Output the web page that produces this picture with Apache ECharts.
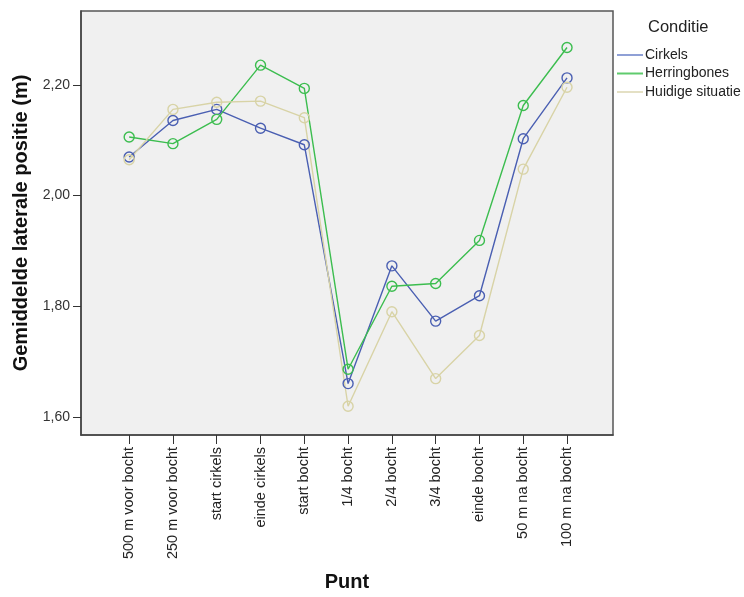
<!DOCTYPE html>
<html>
<head>
<meta charset="utf-8">
<script src="https://cdn.jsdelivr.net/npm/echarts@6/dist/echarts.min.js"></script>
<style>
  html, body { margin: 0; padding: 0; background: #fff; }
  #main { width: 744px; height: 597px; }
</style>
</head>
<body>
<div id="main"></div>
<script>
// punten langs de bocht
var punten = ['500 m voor bocht', '250 m voor bocht', 'start cirkels', 'einde cirkels', 'start bocht',
  '1/4 bocht', '2/4 bocht', '3/4 bocht', 'einde bocht', '50 m na bocht', '100 m na bocht'];

var cirkels = [2.070, 2.136, 2.156, 2.122, 2.092, 1.660, 1.873, 1.773, 1.819, 2.103, 2.213];
var herringbones = [2.106, 2.094, 2.138, 2.236, 2.194, 1.686, 1.836, 1.841, 1.919, 2.163, 2.268];
var huidig = [2.065, 2.156, 2.169, 2.171, 2.141, 1.619, 1.790, 1.669, 1.747, 2.048, 2.196];

var yTicks = [1.6, 1.8, 2.0, 2.2];
var xTicks = punten.map(function (p, i) { return i; });

var chart = echarts.init(document.getElementById('main'));

function mkSerie(name, vals, color) {
  return {
    name: name,
    type: 'line',
    data: vals.map(function (v, i) { return [i, v]; }),
    symbol: 'circle',
    symbolSize: 10,
    showSymbol: true,
    lineStyle: { color: color, width: 1.4 },
    itemStyle: { color: 'rgba(0,0,0,0)', borderColor: color, borderWidth: 1.4 },
    emphasis: { disabled: true },
    z: 3
  };
}

var option = {
  animation: false,
  textStyle: { fontFamily: 'Liberation Sans, Arial, sans-serif' },
  title: {
    text: 'Conditie',
    left: 643,
    top: 14,
    textStyle: { fontSize: 16.5, fontWeight: 'normal', color: '#222' }
  },
  legend: {
    orient: 'vertical',
    left: 617,
    top: 47,
    padding: 0,
    icon: 'rect',
    itemWidth: 26,
    itemHeight: 2,
    itemGap: 2.5,
    textStyle: { fontSize: 14, color: '#222', padding: [0, 0, 0, -3], lineHeight: 16 },
    data: [
      { name: 'Cirkels', itemStyle: { color: '#8fa0d6', borderWidth: 0 } },
      { name: 'Herringbones', itemStyle: { color: '#5fcb6d', borderWidth: 0 } },
      { name: 'Huidige situatie', itemStyle: { color: '#e4e0c4', borderWidth: 0 } }
    ]
  },
  grid: {
    left: 81, top: 11, right: 131, bottom: 162,
    show: true,
    backgroundColor: '#f0f0f0',
    borderColor: '#555',
    borderWidth: 1.5
  },
  xAxis: {
    type: 'value',
    min: -1.1,
    max: 11.05,
    name: 'Punt',
    nameLocation: 'middle',
    nameGap: 137,
    nameTextStyle: { fontSize: 20, fontWeight: 'bold', color: '#111' },
    axisLine: { show: true, onZero: false, lineStyle: { color: '#444', width: 1.5 } },
    axisTick: { show: true, length: 9, customValues: xTicks, lineStyle: { color: '#333' } },
    splitLine: { show: false },
    axisLabel: {
      customValues: xTicks,
      rotate: 90,
      margin: 12,
      fontSize: 14.5,
      color: '#222',
      formatter: function (v) { return punten[Math.round(v)]; }
    }
  },
  yAxis: {
    type: 'value',
    min: 1.567,
    max: 2.334,
    name: 'Gemiddelde laterale positie (m)',
    nameLocation: 'middle',
    nameGap: 50,
    nameTextStyle: { fontSize: 20, fontWeight: 'bold', color: '#111' },
    axisLine: { show: true, onZero: false, lineStyle: { color: '#444', width: 1.5 } },
    axisTick: { show: true, length: 8, customValues: yTicks, lineStyle: { color: '#333' } },
    splitLine: { show: false },
    axisLabel: {
      customValues: yTicks,
      margin: 11,
      fontSize: 14,
      color: '#333',
      formatter: function (v) { return v.toFixed(2).replace('.', ','); }
    }
  },
  series: [
    mkSerie('Cirkels', cirkels, '#4a5fb2'),
    mkSerie('Herringbones', herringbones, '#3cbd4f'),
    mkSerie('Huidige situatie', huidig, '#d8d3a6')
  ]
};

chart.setOption(option);
</script>
</body>
</html>
